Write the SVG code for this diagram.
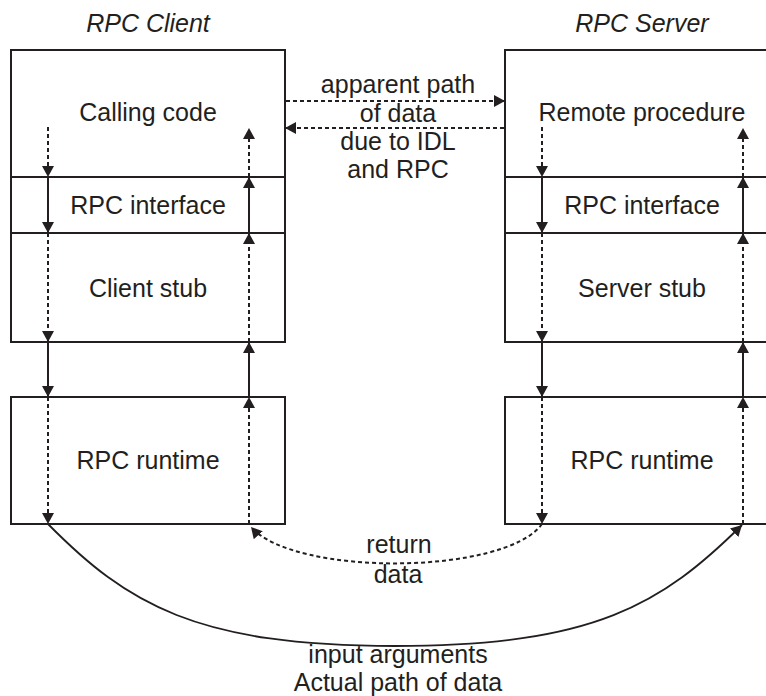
<svg xmlns="http://www.w3.org/2000/svg" width="766" height="696" viewBox="0 0 766 696">
<style>
.box{fill:none;stroke:#231f20;stroke-width:2}
.t{font-family:"Liberation Sans",Arial,sans-serif;font-size:25px;fill:#231f20;text-anchor:middle}
.h{font-style:italic}
.s{fill:none;stroke:#231f20;stroke-width:2}
.d{fill:none;stroke:#231f20;stroke-width:2;stroke-dasharray:4 3}
.c{fill:none;stroke:#231f20;stroke-width:1.8}
</style>
<defs>
<marker id="ah" viewBox="0 0 11 12" refX="11" refY="6" markerWidth="11" markerHeight="12" markerUnits="userSpaceOnUse" orient="auto">
<path d="M0,0 L11,6 L0,12 z" fill="#231f20"/>
</marker>
</defs>
<rect width="766" height="696" fill="#ffffff"/>
<text class="t h" x="148" y="32">RPC Client</text>
<text class="t h" x="642" y="32">RPC Server</text>
<g id="client-calling"><rect class="box" x="11" y="50" width="274" height="127"/><text class="t" x="148" y="121">Calling code</text></g>
<g id="client-interface"><rect class="box" x="11" y="177" width="274" height="56"/><text class="t" x="148" y="214">RPC interface</text></g>
<g id="client-stub"><rect class="box" x="11" y="233" width="274" height="109"/><text class="t" x="148" y="297">Client stub</text></g>
<g id="client-runtime"><rect class="box" x="11" y="397" width="274" height="127"/><text class="t" x="148" y="469">RPC runtime</text></g>
<g id="server-procedure"><rect class="box" x="505" y="50" width="274" height="127"/><text class="t" x="642" y="121">Remote procedure</text></g>
<g id="server-interface"><rect class="box" x="505" y="177" width="274" height="56"/><text class="t" x="642" y="214">RPC interface</text></g>
<g id="server-stub"><rect class="box" x="505" y="233" width="274" height="109"/><text class="t" x="642" y="297">Server stub</text></g>
<g id="server-runtime"><rect class="box" x="505" y="397" width="274" height="127"/><text class="t" x="642" y="469">RPC runtime</text></g>
<g id="connectors">
<line class="d" x1="48" y1="127" x2="48" y2="177" marker-end="url(#ah)"/>
<line class="s" x1="48" y1="177" x2="48" y2="233" marker-end="url(#ah)"/>
<line class="d" x1="48" y1="233" x2="48" y2="342" marker-end="url(#ah)"/>
<line class="s" x1="48" y1="342" x2="48" y2="397" marker-end="url(#ah)"/>
<line class="d" x1="48" y1="397" x2="48" y2="524" marker-end="url(#ah)"/>
<line class="d" x1="249" y1="524" x2="249" y2="397" marker-end="url(#ah)"/>
<line class="s" x1="249" y1="397" x2="249" y2="342" marker-end="url(#ah)"/>
<line class="d" x1="249" y1="342" x2="249" y2="233" marker-end="url(#ah)"/>
<line class="s" x1="249" y1="233" x2="249" y2="177" marker-end="url(#ah)"/>
<line class="d" x1="249" y1="177" x2="249" y2="128" marker-end="url(#ah)"/>
<line class="d" x1="542" y1="127" x2="542" y2="177" marker-end="url(#ah)"/>
<line class="s" x1="542" y1="177" x2="542" y2="233" marker-end="url(#ah)"/>
<line class="d" x1="542" y1="233" x2="542" y2="342" marker-end="url(#ah)"/>
<line class="s" x1="542" y1="342" x2="542" y2="397" marker-end="url(#ah)"/>
<line class="d" x1="542" y1="397" x2="542" y2="524" marker-end="url(#ah)"/>
<line class="d" x1="743" y1="524" x2="743" y2="397" marker-end="url(#ah)"/>
<line class="s" x1="743" y1="397" x2="743" y2="342" marker-end="url(#ah)"/>
<line class="d" x1="743" y1="342" x2="743" y2="233" marker-end="url(#ah)"/>
<line class="s" x1="743" y1="233" x2="743" y2="177" marker-end="url(#ah)"/>
<line class="d" x1="743" y1="177" x2="743" y2="128" marker-end="url(#ah)"/>
<line class="d" x1="286" y1="101" x2="505" y2="101" stroke-dasharray="4.5 3.5" marker-end="url(#ah)"/>
<line class="d" x1="504" y1="128" x2="285" y2="128" stroke-dasharray="4.5 3.5" marker-end="url(#ah)"/>
<path class="d" d="M542,524 C505,575 295,577 251,527" marker-end="url(#ah)"/>
<path class="c" d="M48,524 C127,604 196,646 395,646 C595,646 662,604 742,525" marker-end="url(#ah)"/>
</g>
<g id="labels">
<text class="t" x="398" y="93">apparent path</text>
<text class="t" x="398" y="122">of data</text>
<text class="t" x="398" y="150">due to IDL</text>
<text class="t" x="398" y="178">and RPC</text>
<text class="t" x="399" y="553">return</text>
<text class="t" x="398" y="583">data</text>
<text class="t" x="398" y="663">input arguments</text>
<text class="t" x="398" y="691">Actual path of data</text>
</g>
</svg>
